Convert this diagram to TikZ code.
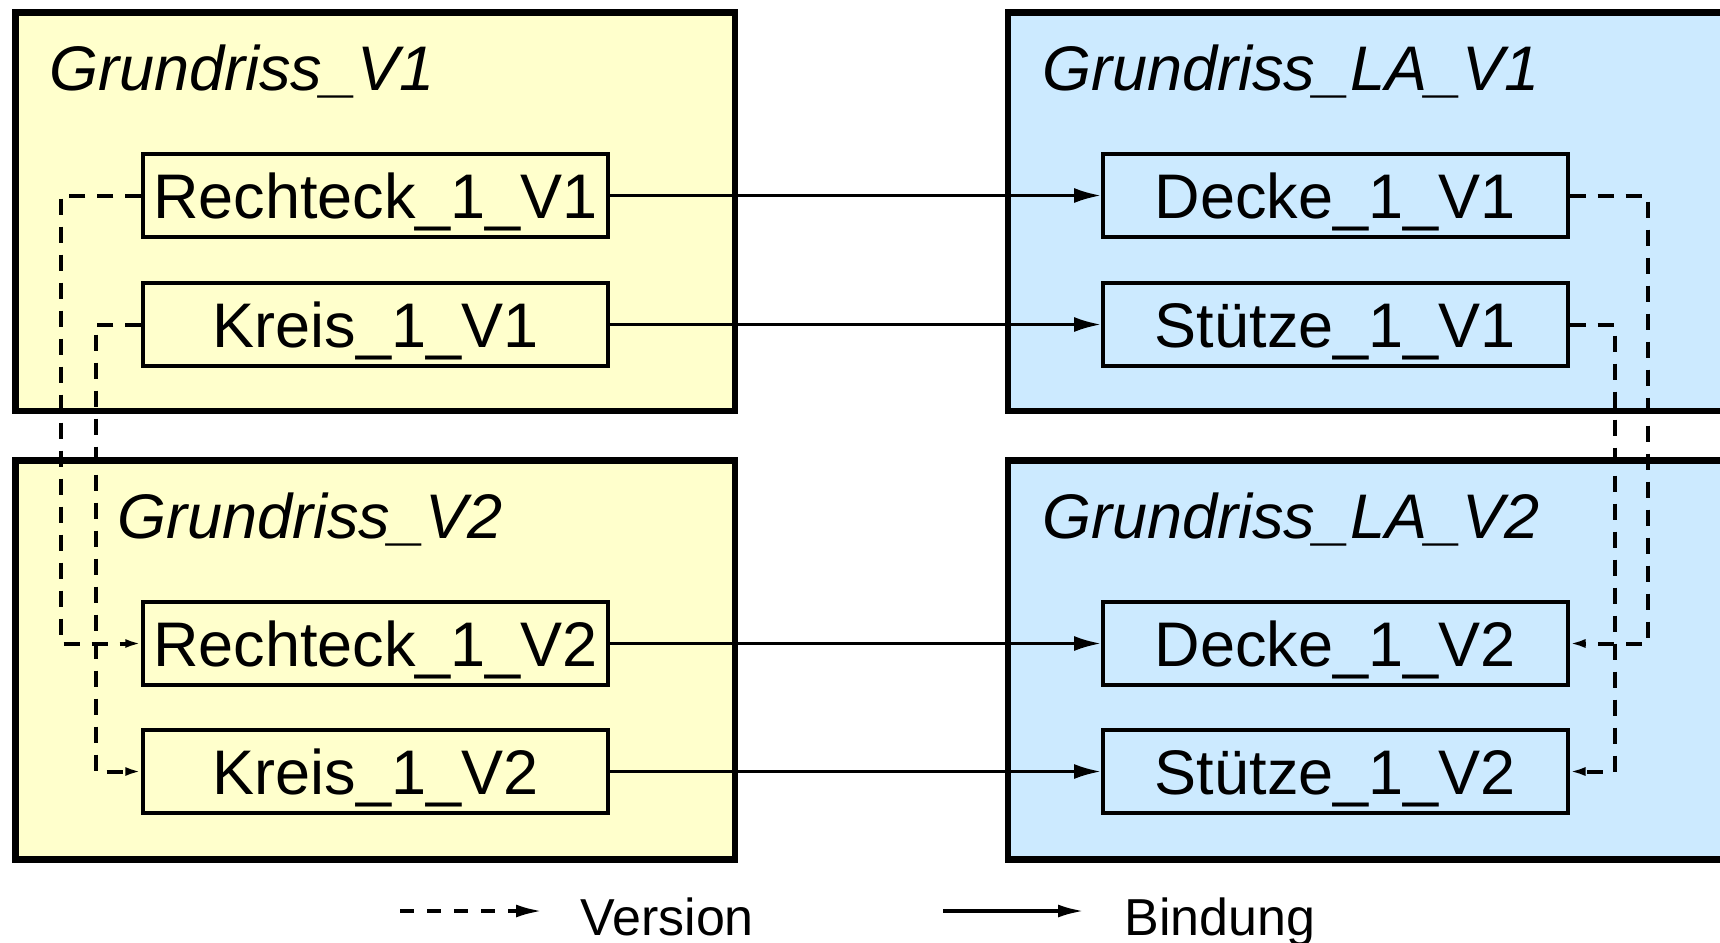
\documentclass[tikz,border=0pt]{standalone}
\usepackage{fontspec}
\setmainfont{Liberation Sans}
\usetikzlibrary{arrows.meta}
\definecolor{planyellow}{RGB}{255,255,204}
\definecolor{planblue}{RGB}{204,234,255}

\begin{document}
\begin{tikzpicture}[x=0.5pt,y=-0.5pt,
  group/.style={draw=black, line width=3.4pt, inner sep=0pt},
  yellowgroup/.style={group, fill=planyellow, minimum width=359.75pt},
  bluegroup/.style={group, fill=planblue, minimum width=376pt},
  title/.style={anchor=base west, inner sep=0pt, font=\fontsize{31.5}{36}\selectfont\itshape},
  element/.style={draw=black, line width=1.7pt, minimum width=232.5pt, minimum height=41.5pt,
    inner sep=0pt, text height=22.5pt, text depth=0pt, font=\fontsize{31.5}{36}\selectfont},
  binding/.style={line width=1.6pt, -{Latex[length=13.5pt,width=7.5pt]}},
  version/.style={line width=2pt, dash pattern=on 8pt off 6pt, -{Latex[length=8pt,width=4.5pt]}},
  legendversion/.style={line width=1.8pt, dash pattern=on 7pt off 6.5pt, -{Latex[length=13pt,width=6.5pt]}},
  legendtext/.style={anchor=base west, inner sep=0pt, font=\fontsize{26}{30}\selectfont}
]
\useasboundingbox (0,0) rectangle (1720,943);

% group frames
\node[yellowgroup, minimum height=199.25pt] (g1) at (375.25,211.75) {};
\node[yellowgroup, minimum height=199.5pt]  (g2) at (375.25,660) {};
\node[bluegroup, minimum height=199.25pt]   (l1) at (1384,211.75) {};
\node[bluegroup, minimum height=199.5pt]    (l2) at (1384,660) {};

% group titles
\node[title] (t1) at (49,90)    {Grundriss\_V1};
\node[title] (t2) at (117,538)  {Grundriss\_V2};
\node[title] (t3) at (1042,90)  {Grundriss\_LA\_V1};
\node[title] (t4) at (1042,538) {Grundriss\_LA\_V2};

% elements
\node[element] (r1) at (375.5,195.5) {Rechteck\_1\_V1};
\node[element] (k1) at (375.5,324.5) {Kreis\_1\_V1};
\node[element] (r2) at (375.5,643.5) {Rechteck\_1\_V2};
\node[element] (k2) at (375.5,771.5) {Kreis\_1\_V2};
\node[element] (d1) at (1335.3,195.5) {Decke\_1\_V1};
\node[element] (s1) at (1335.3,324.5) {Stütze\_1\_V1};
\node[element] (d2) at (1335.3,643.5) {Decke\_1\_V2};
\node[element] (s2) at (1335.3,771.5) {Stütze\_1\_V2};

% bindings
\draw[binding] (r1.east) -- (d1.west);
\draw[binding] (k1.east) -- (s1.west);
\draw[binding] (r2.east) -- (d2.west);
\draw[binding] (k2.east) -- (s2.west);

% version routes
\coordinate (la) at (60.5,0);
\coordinate (lb) at (95.5,0);
\coordinate (ra) at (1647.5,0);
\coordinate (rb) at (1614.5,0);
\draw[version] (r1.west) -| (la |- r2.west) -- (r2.west);
\draw[version] (k1.west) -| (lb |- k2.west) -- (k2.west);
\draw[version] (d1.east) -| (ra |- d2.east) -- (d2.east);
\draw[version] (s1.east) -| (rb |- s2.east) -- (s2.east);

% legend
\coordinate (vs) at (400,911);
\coordinate (ve) at (542,911);
\coordinate (bs) at (943,911);
\coordinate (be) at (1084,911);
\draw[legendversion] (vs) -- (ve);
\draw[line width=1.8pt, -{Latex[length=13pt,width=6.5pt]}] (bs) -- (be);
\node[legendtext] (vt) at (580,935)  {Version};
\node[legendtext] (bt) at (1124,935) {Bindung};
\end{tikzpicture}
\end{document}
